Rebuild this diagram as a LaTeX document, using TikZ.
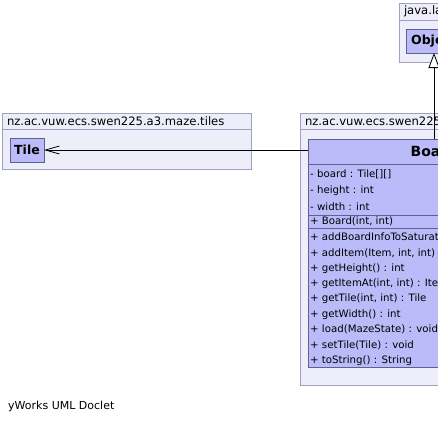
\documentclass[tikz,border=0pt]{standalone}
\usepackage{fontspec}
\setmainfont{DejaVu Sans}
\usetikzlibrary{arrows.meta,positioning}
\definecolor{pkgfill}{RGB}{238,238,250}
\definecolor{pkgline}{RGB}{160,160,192}
\definecolor{clsfill}{RGB}{187,187,250}
\definecolor{clsline}{RGB}{96,96,144}

\begin{document}
\begin{tikzpicture}[x=1pt, y=-1pt,
    pkghead/.style={draw=pkgline, fill=pkgfill, line width=0.8pt, outer sep=0pt, anchor=north west,
      inner xsep=5pt, inner ysep=0pt, minimum height=16pt, align=left, font=\fontsize{11.6}{13}\selectfont},
    pkgbody/.style={draw=pkgline, fill=pkgfill, line width=0.8pt, outer sep=0pt, inner sep=0pt},
    cls/.style={draw=clsline, fill=clsfill, line width=0.8pt, outer sep=0pt, inner sep=0pt,
      minimum height=24pt, font=\fontsize{12.5}{14}\selectfont\bfseries},
    comp/.style={draw=clsline, fill=clsfill, line width=0.8pt, outer sep=0pt, inner sep=0pt, minimum width=252pt},
    mem/.style={anchor=west, inner sep=0pt, font=\fontsize{10.2}{12}\selectfont},
    dep/.style={-{Straight Barb[length=14pt, width=8pt]}, line width=0.8pt},
    gen/.style={-{Triangle[open, fill=white, length=15pt, width=11pt]}, line width=0.8pt}
  ]
  \useasboundingbox (0,0) rectangle (438,423);
  \clip (0,0) rectangle (438,423);

  % packages
  \node[pkghead, text width=239pt] (tileshead) at (2,113) {nz.ac.vuw.ecs.swen225.a3.maze.tiles};
  \node[pkgbody, minimum width=249pt, minimum height=40pt, below=0pt of tileshead] (tilespkg) {};
  \node[pkghead, text width=258pt] (mazehead) at (300,113) {nz.ac.vuw.ecs.swen225.a3.maze};
  \node[pkgbody, minimum width=268pt, minimum height=256pt, below=0pt of mazehead] (mazepkg) {};
  \node[pkghead, text width=61pt, minimum height=17pt] (langhead) at (399,3) {java.lang};
  \node[pkgbody, minimum width=71pt, minimum height=42pt, below=0pt of langhead] (langpkg) {};

  % classes
  \node[cls, minimum width=56pt] (obj) at (434,41) {Object};
  \node[cls, minimum width=34pt] (tile) at (27,150) {Tile};

  \node[comp, minimum height=25pt, anchor=north west, font=\fontsize{14}{16}\selectfont\bfseries] (boardname) at (308,139) {Board};
  \node[comp, minimum height=51pt, below=0pt of boardname] (boardattr) {};
  \node[comp, minimum height=13pt, below=0pt of boardattr] (boardctor) {};
  \node[comp, minimum height=139pt, below=0pt of boardctor] (boardops) {};

  \foreach \m [count=\i] in {{- board : Tile[][]}, {- height : int}, {- width : int}}
    \node[mem] (attr\i) at ({310}, {174+16.3*(\i-1)}) {\m};
  \node[mem] (ctor) at (310,221.5) {+ Board(int, int)};
  \foreach \m [count=\i] in {{+ addBoardInfoToSaturate(MazeState) : void}, {+ addItem(Item, int, int) : void},
      {+ getHeight() : int}, {+ getItemAt(int, int) : Item}, {+ getTile(int, int) : Tile},
      {+ getWidth() : int}, {+ load(MazeState) : void}, {+ setTile(Tile) : void}, {+ toString() : String}}
    \node[mem] (op\i) at ({310}, {237.5+15.35*(\i-1)}) {\m};

  % relations
  \draw[dep] (boardname.west |- tile.east) -- (tile.east);
  \draw[gen] (boardname.north) -- (obj.south);

  \node[anchor=west, inner sep=0pt, font=\fontsize{11}{13}\selectfont] (doclet) at (8,406) {yWorks UML Doclet};
\end{tikzpicture}
\end{document}
